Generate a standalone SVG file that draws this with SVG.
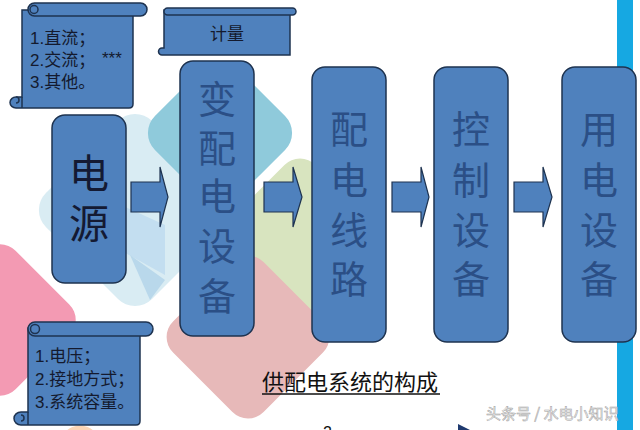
<svg xmlns="http://www.w3.org/2000/svg" width="640" height="430" viewBox="0 0 640 430">
<style>
.node{fill:#4f81bd;stroke:#1e3350;stroke-width:1.5}
.big{font-family:"Noto Sans CJK SC","Liberation Sans",sans-serif;font-size:38px;fill:#2b4f86;text-anchor:middle}
.src{font-family:"Noto Sans CJK SC","Liberation Sans",sans-serif;font-size:40px;fill:#141a33;text-anchor:middle}
.note{font-family:"Liberation Sans","Noto Sans CJK SC",sans-serif;font-size:17px;fill:#141a2e}
.arrow{fill:#4f81bd;stroke:#1e3350;stroke-width:1.2}
</style>
<rect width="640" height="430" fill="#ffffff"/>
<g id="background">
<rect x="-60" y="-60" width="120" height="120" rx="22" fill="#f39ab3" transform="translate(0,320) rotate(45)"/>
<rect x="-75" y="-75" width="150" height="150" rx="24" fill="#d9ecf3" transform="translate(135,210) rotate(45)"/>
<polygon points="110,200 165,225 165,275 120,250" fill="#c3def0"/>
<polygon points="130,255 165,280 150,300" fill="#b9d8eb"/>
<rect x="-58" y="-58" width="116" height="116" rx="24" fill="#8fcadb" transform="translate(220,133) rotate(45)"/>
<rect x="-64" y="-64" width="128" height="128" rx="22" fill="#d8e4bf" transform="translate(300,240) rotate(45)"/>
<rect x="-64" y="-64" width="128" height="128" rx="22" fill="#e7b9b9" transform="translate(248,337) rotate(45)"/>
<rect x="-55" y="-55" width="110" height="110" rx="20" fill="#fbd5b5" transform="translate(80,495) rotate(45)"/>
<rect x="617" y="0" width="16" height="430" fill="#16a8e2"/>
</g>
<g id="connectors">
<polygon class="arrow" points="131,182 160,182 160,167 168,197 160,227 160,212 131,212"/>
<polygon class="arrow" points="264,182 293,182 293,167 302,197 293,227 293,212 264,212"/>
<polygon class="arrow" points="392,182 421,182 421,167 429,197 421,227 421,212 392,212"/>
<polygon class="arrow" points="514,182 543,182 543,167 552,197 543,227 543,212 514,212"/>
</g>
<g id="node-source">
<rect class="node" x="52" y="115" width="74" height="168" rx="13"/>
<text class="src" x="89" y="188">电</text>
<text class="src" x="89" y="238">源</text>
</g>
<g id="node-substation">
<rect class="node" x="180" y="61" width="74" height="275" rx="13"/>
<text class="big" x="217" y="113">变</text>
<text class="big" x="217" y="162">配</text>
<text class="big" x="217" y="210">电</text>
<text class="big" x="217" y="260">设</text>
<text class="big" x="217" y="310">备</text>
</g>
<g id="node-line">
<rect class="node" x="312" y="67" width="74" height="275" rx="13"/>
<text class="big" x="349" y="143">配</text>
<text class="big" x="349" y="194">电</text>
<text class="big" x="349" y="244">线</text>
<text class="big" x="349" y="293">路</text>
</g>
<g id="node-control">
<rect class="node" x="434" y="67" width="74" height="275" rx="13"/>
<text class="big" x="471" y="143">控</text>
<text class="big" x="471" y="194">制</text>
<text class="big" x="471" y="244">设</text>
<text class="big" x="471" y="293">备</text>
</g>
<g id="node-load">
<rect class="node" x="562" y="67" width="74" height="275" rx="13"/>
<text class="big" x="599" y="143">用</text>
<text class="big" x="599" y="194">电</text>
<text class="big" x="599" y="244">设</text>
<text class="big" x="599" y="293">备</text>
</g>
<g id="note-type">
<path class="node" d="M22,10 L133,10 L133,104 Q133,108 129,108 L16,108 A6,5.5 0 0 1 16,97 L22,97 Z"/>
<path class="node" d="M16,97 A3,3 0 0 1 16,103 M22,97 L22,108" fill="none"/>
<rect class="node" x="28" y="3" width="119" height="13" rx="6.5"/>
<circle class="node" cx="34" cy="9.5" r="4"/>
<text class="note" x="30" y="44">1.直流；</text>
<text class="note" x="30" y="66">2.交流；</text>
<text class="note" x="102" y="64" font-size="13">***</text>
<text class="note" x="30" y="88">3.其他。</text>
</g>
<g id="note-meter">
<path class="node" d="M164,10 L290,10 L290,55 L162,55 A3.5,3.5 0 0 1 162,48 L164,48 Z"/>
<rect class="node" x="164" y="8" width="132" height="7" rx="3.5"/>
<text class="note" x="227" y="40" font-size="14" text-anchor="middle">计量</text>
</g>
<g id="note-system">
<path class="node" d="M28,328 L140,328 L140,421 Q140,425 136,425 L21,425 A7,6.5 0 0 1 21,412 L28,412 Z"/>
<path class="node" d="M21,415 A3,3 0 0 1 21,421 M28,412 L28,425" fill="none"/>
<rect class="node" x="28" y="322" width="125" height="14" rx="7"/>
<circle class="node" cx="35" cy="329" r="4.5"/>
<text class="note" x="35" y="362">1.电压；</text>
<text class="note" x="35" y="385">2.接地方式；</text>
<text class="note" x="35" y="408">3.系统容量。</text>
</g>
<g id="title">
<text x="262" y="390" font-family="Noto Sans CJK SC,Liberation Sans,sans-serif" font-size="22" fill="#111">供配电系统的构成</text>
<line x1="262" y1="394" x2="440" y2="394" stroke="#111" stroke-width="1.3"/>
<text x="323" y="438" font-family="Liberation Sans,sans-serif" font-size="16" fill="#111">2</text>
<polygon points="458,424 470,430 458,430" fill="#1f3a6f"/>
<text x="486" y="419" font-family="Noto Sans CJK SC,Liberation Sans,sans-serif" font-size="15" fill="#f6f6f6" stroke="#a0a0a0" stroke-width="0.5">头条号 / 水电小知识</text>
</g>
</svg>
